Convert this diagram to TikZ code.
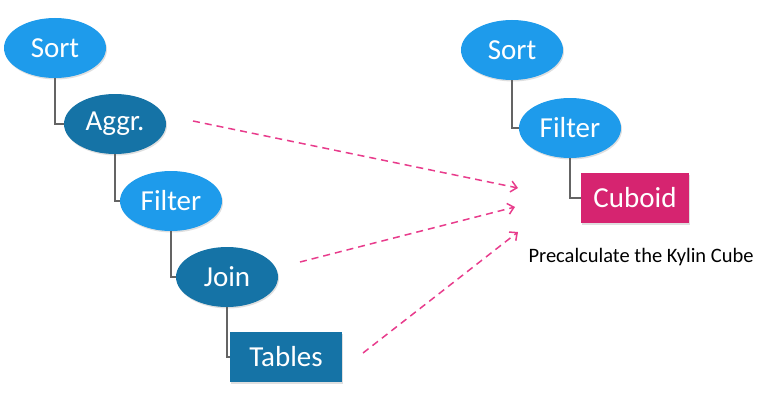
\documentclass[tikz,border=0pt]{standalone}
\usepackage{fontspec}
\setmainfont{Carlito}
\usepackage{xcolor}
\usetikzlibrary{shapes.geometric}
\usetikzlibrary{arrows.meta}
\usetikzlibrary{shadows}
\definecolor{lblue}{RGB}{30,155,235}
\definecolor{dblue}{RGB}{21,115,166}
\definecolor{mpink}{RGB}{214,36,112}
\definecolor{apink}{RGB}{232,60,140}
\definecolor{lgrey}{RGB}{100,100,100}
\tikzset{shade/.style = {drop shadow={opacity=0.25, shadow xshift=1pt, shadow yshift=-1.5pt}}}
\tikzset{oval/.style = {ellipse, shade, inner sep=0, minimum width=102, minimum height=60,
                        text=white, font=\fontsize{29}{34}\selectfont}}
\tikzset{lnode/.style = {oval, fill=lblue}}
\tikzset{dnode/.style = {oval, fill=dblue}}
\tikzset{box/.style = {rectangle, shade, inner sep=0, minimum height=50,
                       text=white, font=\fontsize{29}{34}\selectfont}}
\tikzset{link/.style = {draw=lgrey, line width=1.4}}
\tikzset{dasharr/.style = {draw=apink, line width=1.5, dash pattern=on 7 off 5,
                           -{Straight Barb[length=6pt, width=11pt, line width=1.5]}}}
\begin{document}
\begin{tikzpicture}[x=1pt, y=-1pt]
  \useasboundingbox (0,0) rectangle (768,404);
  % query plan
  \node[lnode] (sort) at (55,48) {Sort};
  \node[dnode] (agg) at (115,124) {Aggr.};
  \node[lnode] (filt) at (171,201) {Filter};
  \node[dnode] (join) at (227,277) {Join};
  \node[box, fill=dblue, minimum width=112] (tab) at (286,357) {Tables};
  \draw[link] (sort.south) |- (agg.west);
  \draw[link] (agg.south) |- (filt.west);
  \draw[link] (filt.south) |- (join.west);
  \draw[link] (join.south) |- (tab.west);
  % precalculated plan
  \node[lnode] (sort2) at (512,50) {Sort};
  \node[lnode] (filt2) at (570,128) {Filter};
  \node[box, fill=mpink, minimum width=108] (cub) at (635,198) {Cuboid};
  \draw[link] (sort2.south) |- (filt2.west);
  \draw[link] (filt2.south) |- (cub.west);
  \node[font=\fontsize{20.5}{24}\selectfont] (cap) at (641,257) {Precalculate the Kylin Cube};
  % arrows
  \coordinate (s1) at (193,121);
  \coordinate (e1) at (518,188);
  \coordinate (s2) at (300,262);
  \coordinate (e2) at (515,207);
  \coordinate (s3) at (363,353);
  \coordinate (e3) at (518,232);
  \draw[dasharr] (s1) -- (e1);
  \draw[dasharr] (s2) -- (e2);
  \draw[dasharr] (s3) -- (e3);
\end{tikzpicture}
\end{document}
